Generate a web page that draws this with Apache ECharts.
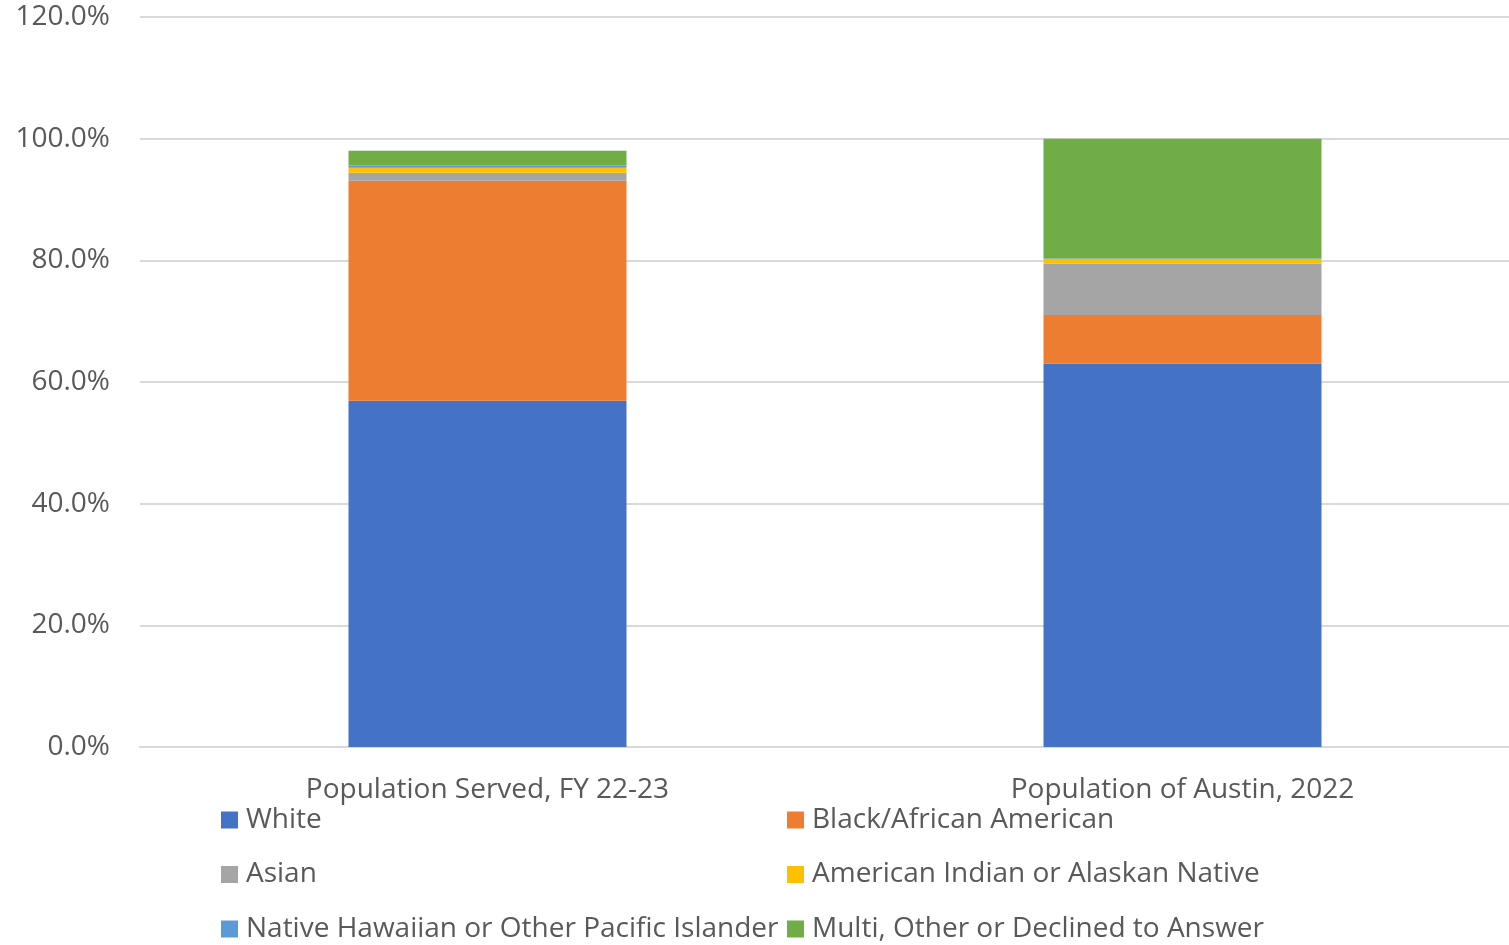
<!DOCTYPE html>
<html><head><meta charset="utf-8">
<script src="https://cdn.jsdelivr.net/npm/echarts@6/dist/echarts.min.js"></script>
<style>html,body{margin:0;padding:0;background:#fff;overflow:hidden}#c{width:1530px;height:945px}</style>
</head><body><div id="c"></div>
<script>
const categories = ['Population Served, FY 22-23', 'Population of Austin, 2022'];
const seriesNames = ['White', 'Black/African American', 'Asian', 'American Indian or Alaskan Native', 'Native Hawaiian or Other Pacific Islander', 'Multi, Other or Declined to Answer'];
const white = [56.9, 63.0];
const black = [36.2, 8.0];
const asian = [1.3, 8.5];
const amIndian = [0.8, 0.7];
const hawaiian = [0.4, 0.1];
const multi = [2.4, 19.7];
const colors = ['#4472C4', '#ED7D31', '#A5A5A5', '#FFC000', '#5B9BD5', '#70AD47'];
const values = [white, black, asian, amIndian, hawaiian, multi];
const font = '"Open Sans", sans-serif';
const chart = echarts.init(document.getElementById('c'));
const legendCommon = {
  orient: 'vertical', itemWidth: 17, itemHeight: 17, itemGap: 26.5, icon: 'rect', height: 200,
  padding: 0,
  textStyle: {fontFamily: font, fontSize: 28, color: '#595959', padding: [0,0,0,3]}
};
chart.setOption({
  animation: false,
  color: colors,
  grid: {left: 140, right: 0, top: 17, bottom: 198, containLabel: false},
  legend: [
    Object.assign({left: 221, top: 806, data: [seriesNames[0], seriesNames[2], seriesNames[4]]}, legendCommon),
    Object.assign({left: 787, top: 806, data: [seriesNames[1], seriesNames[3], seriesNames[5]]}, legendCommon)
  ],
  xAxis: {
    type: 'category', data: categories,
    axisLine: {lineStyle: {color: '#d9d9d9', width: 2}}, axisTick: {show: false},
    axisLabel: {fontFamily: font, fontSize: 28, color: '#595959', margin: 29}
  },
  yAxis: {
    type: 'value', min: 0, max: 120, interval: 20,
    axisLine: {show: false}, axisTick: {show: false},
    splitLine: {lineStyle: {color: '#d9d9d9', width: 2}},
    axisLabel: {fontFamily: font, fontSize: 28, color: '#595959', margin: 30, formatter: v => v.toFixed(1) + '%'}
  },
  series: seriesNames.map((n, i) => ({
    name: n, type: 'bar', stack: 'total', barWidth: '40%', data: values[i]
  }))
});
</script></body></html>
